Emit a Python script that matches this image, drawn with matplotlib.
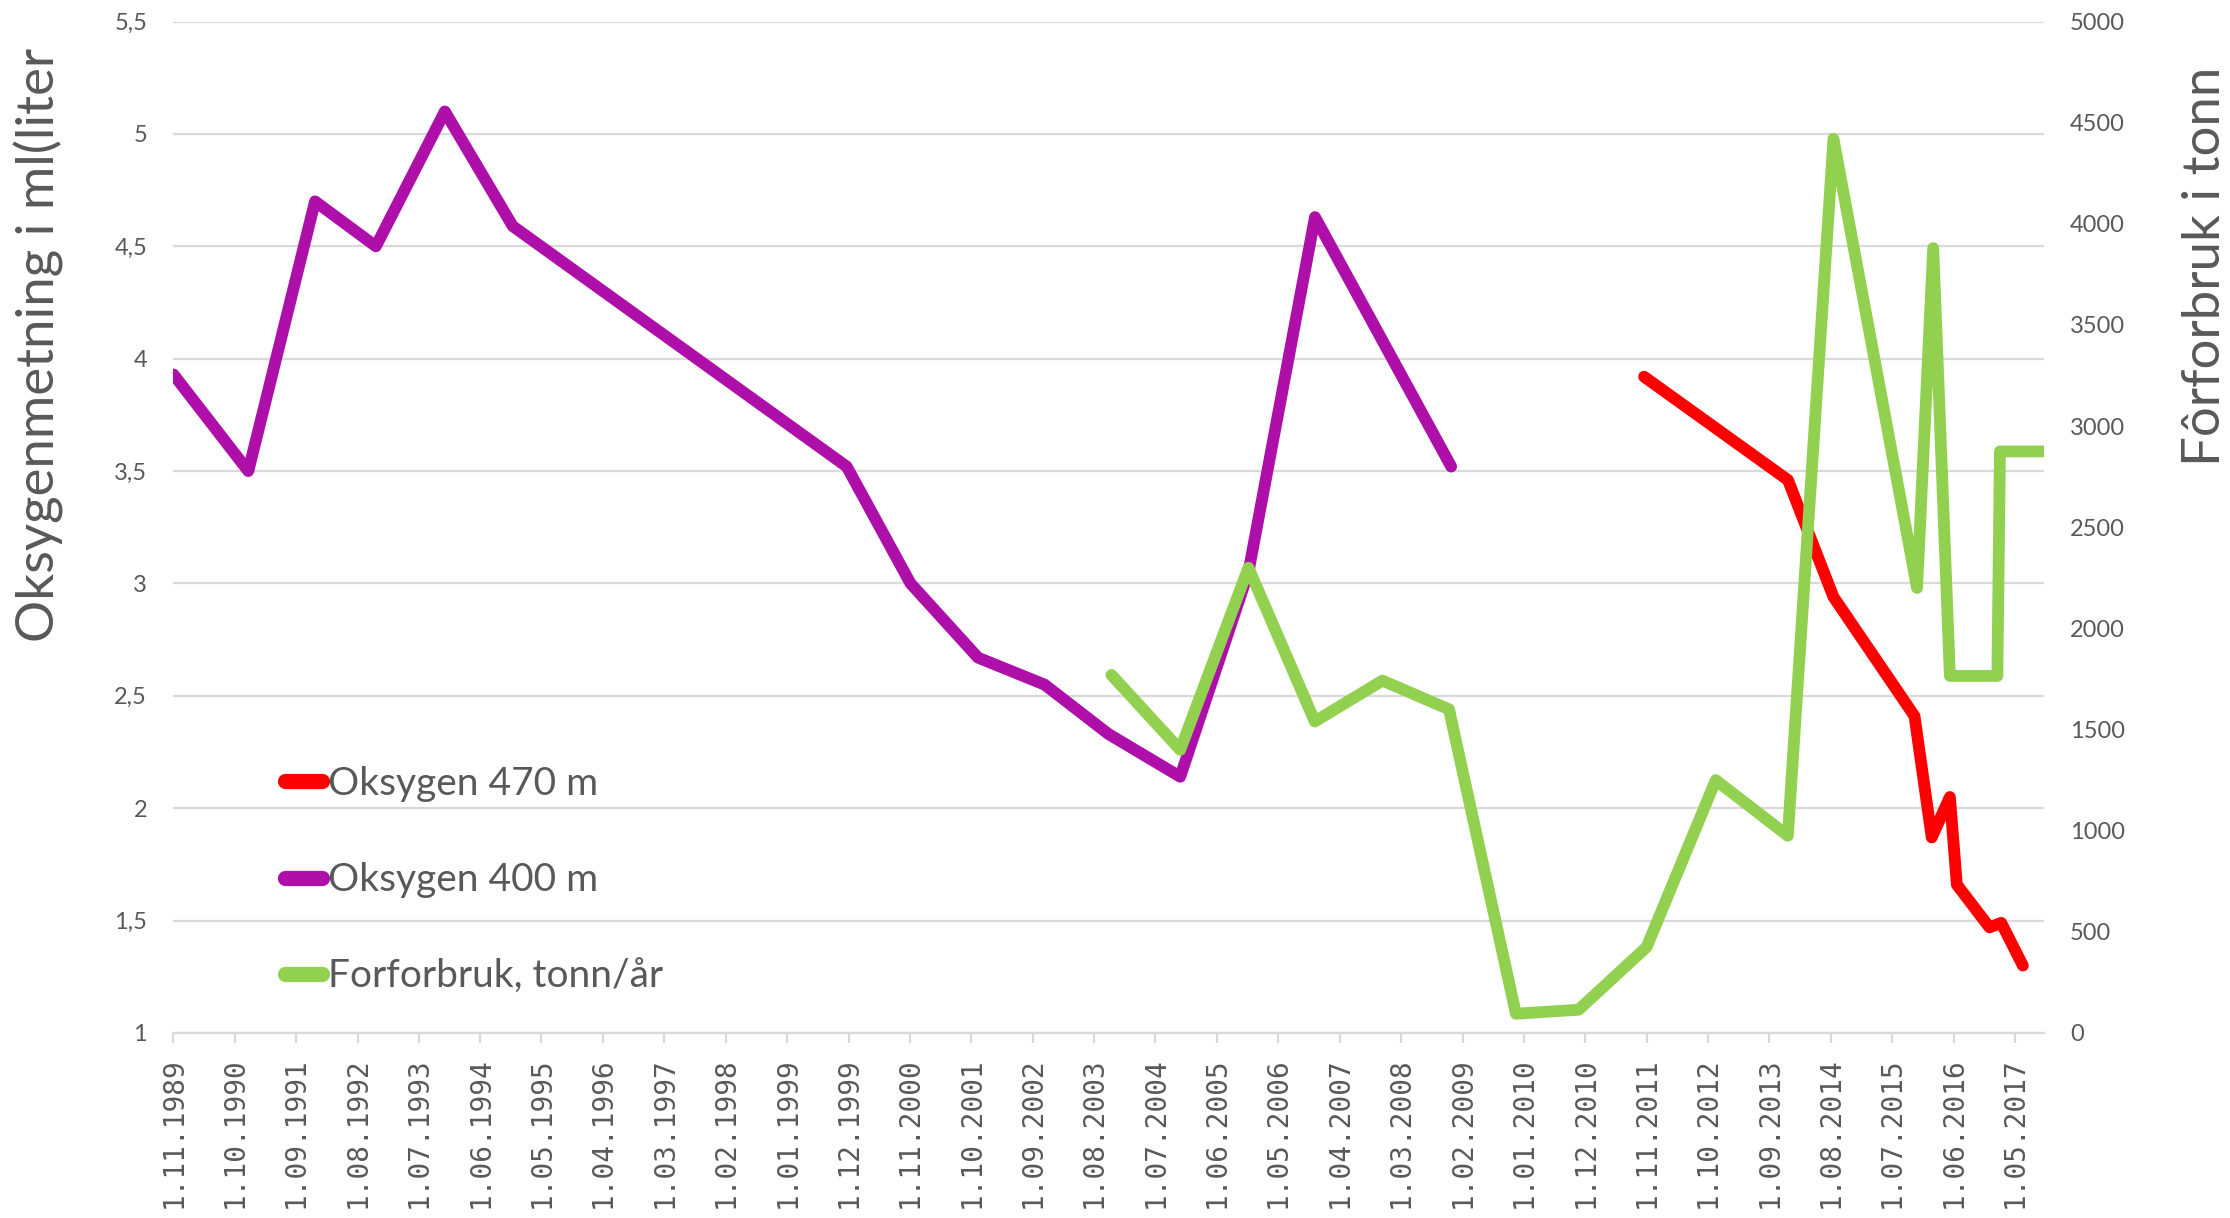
import matplotlib
matplotlib.use("Agg")
import matplotlib.pyplot as plt
import matplotlib.dates as mdates
import pandas as pd

# Oksygen 400 m (ml/liter)
ox400_dates = ["1989-11-01", "1990-12-14", "1991-12-13", "1992-11-09", "1993-11-20",
               "1994-11-25", "1999-11-21", "2000-11-03", "2001-11-06", "2002-11-04",
               "2003-10-19", "2004-11-13", "2005-11-20", "2006-11-18", "2008-11-30"]
ox400_vals = [3.93, 3.50, 4.70, 4.50, 5.10,
              4.59, 3.52, 3.00, 2.67, 2.55,
              2.33, 2.14, 3.05, 4.63, 3.52]

# Oksygen 470 m (ml/liter)
ox470_dates = ["2011-10-18", "2013-12-11", "2014-08-16", "2015-11-01", "2016-02-03",
               "2016-05-12", "2016-06-19", "2016-12-14", "2017-02-16", "2017-06-14"]
ox470_vals = [3.92, 3.46, 2.94, 2.41, 1.87,
              2.05, 1.66, 1.47, 1.49, 1.30]

# Forforbruk, tonn/år
feed_dates = ["2003-11-04", "2004-11-13", "2005-11-20", "2006-11-17", "2007-11-21",
              "2008-11-18", "2009-11-18", "2010-10-26", "2011-11-01", "2012-11-12",
              "2013-12-10", "2014-08-16", "2015-11-15", "2016-02-11", "2016-05-12",
              "2017-01-26", "2017-02-09", "2017-10-05"]
feed_vals = [1770, 1400, 2300, 1540, 1742,
             1600, 95, 115, 425, 1250,
             975, 4420, 2200, 3880, 1765,
             1765, 2875, 2875]

x_ticks = pd.date_range("1989-11-01", "2017-05-01", freq="11MS")

gray_txt = "#595959"
grid_col = "#d9d9d9"

plt.rcParams["font.family"] = ["Lato", "DejaVu Sans"]

fig = plt.figure(figsize=(22.3, 12.18), dpi=100)
ax = fig.add_axes([0.0778, 0.1519, 0.8386, 0.8304])
ax2 = ax.twinx()

line_kw = dict(lw=8.5, solid_capstyle="round", solid_joinstyle="round")
l470, = ax.plot(pd.to_datetime(ox470_dates), ox470_vals, color="#ff0000",
                label="Oksygen 470 m", **line_kw)
l400, = ax.plot(pd.to_datetime(ox400_dates), ox400_vals, color="#ae0fa9",
                label="Oksygen 400 m", **line_kw)
lfeed, = ax2.plot(pd.to_datetime(feed_dates), feed_vals, color="#92d050",
                  label="Forforbruk, tonn/år", **line_kw)

# venstre akse
ax.set_ylim(1, 5.5)
ax.set_yticks([1 + 0.5 * i for i in range(10)])
ax.set_yticklabels([f"{1 + 0.5 * i:g}".replace(".", ",") for i in range(10)])
ax.grid(axis="y", color=grid_col, lw=1.6)
ax.set_axisbelow(True)

# høyre akse
ax2.set_ylim(0, 5000)
ax2.set_yticks(range(0, 5001, 500))

# x-akse med datoer
ax.set_xlim(pd.Timestamp("1989-11-01"), pd.Timestamp("2017-10-05"))
ax.set_xticks(x_ticks)
ax.xaxis.set_major_formatter(mdates.DateFormatter("1.%m.%Y"))
for lab in ax.get_xticklabels():
    lab.set_rotation(90)
    lab.set_family("DejaVu Sans Mono")
    lab.set_fontsize(20)
    lab.set_color(gray_txt)

for s in ["top", "left", "right"]:
    ax.spines[s].set_visible(False)
for s in ax2.spines.values():
    s.set_visible(False)
ax.spines["bottom"].set_color(grid_col)
ax.spines["bottom"].set_linewidth(1.6)

ax.tick_params(axis="x", direction="out", length=7.5, width=1.6, color=grid_col, pad=10)
ax.tick_params(axis="y", length=0, pad=19, labelsize=17, labelcolor=gray_txt)
ax2.tick_params(axis="y", length=0, pad=19, labelsize=17, labelcolor=gray_txt)

fig.text(0.0175, 0.7167, "Oksygenmetning i ml(liter", rotation=90, ha="center",
         va="center", fontsize=38, color=gray_txt)
fig.text(0.9888, 0.781, "Fôrforbruk i tonn", rotation=90, ha="center",
         va="center", fontsize=38, color=gray_txt)

leg = ax2.legend(handles=[l470, l400, lfeed], loc="center left",
                 bbox_to_anchor=(0.0594, 0.151), frameon=False, fontsize=28,
                 handlelength=0.96, handletextpad=0.15, labelspacing=1.56,
                 borderpad=0, borderaxespad=0)
for t in leg.get_texts():
    t.set_color(gray_txt)
for ln in leg.get_lines():
    ln.set_linewidth(11)

fig.savefig("out.png", dpi=100)
